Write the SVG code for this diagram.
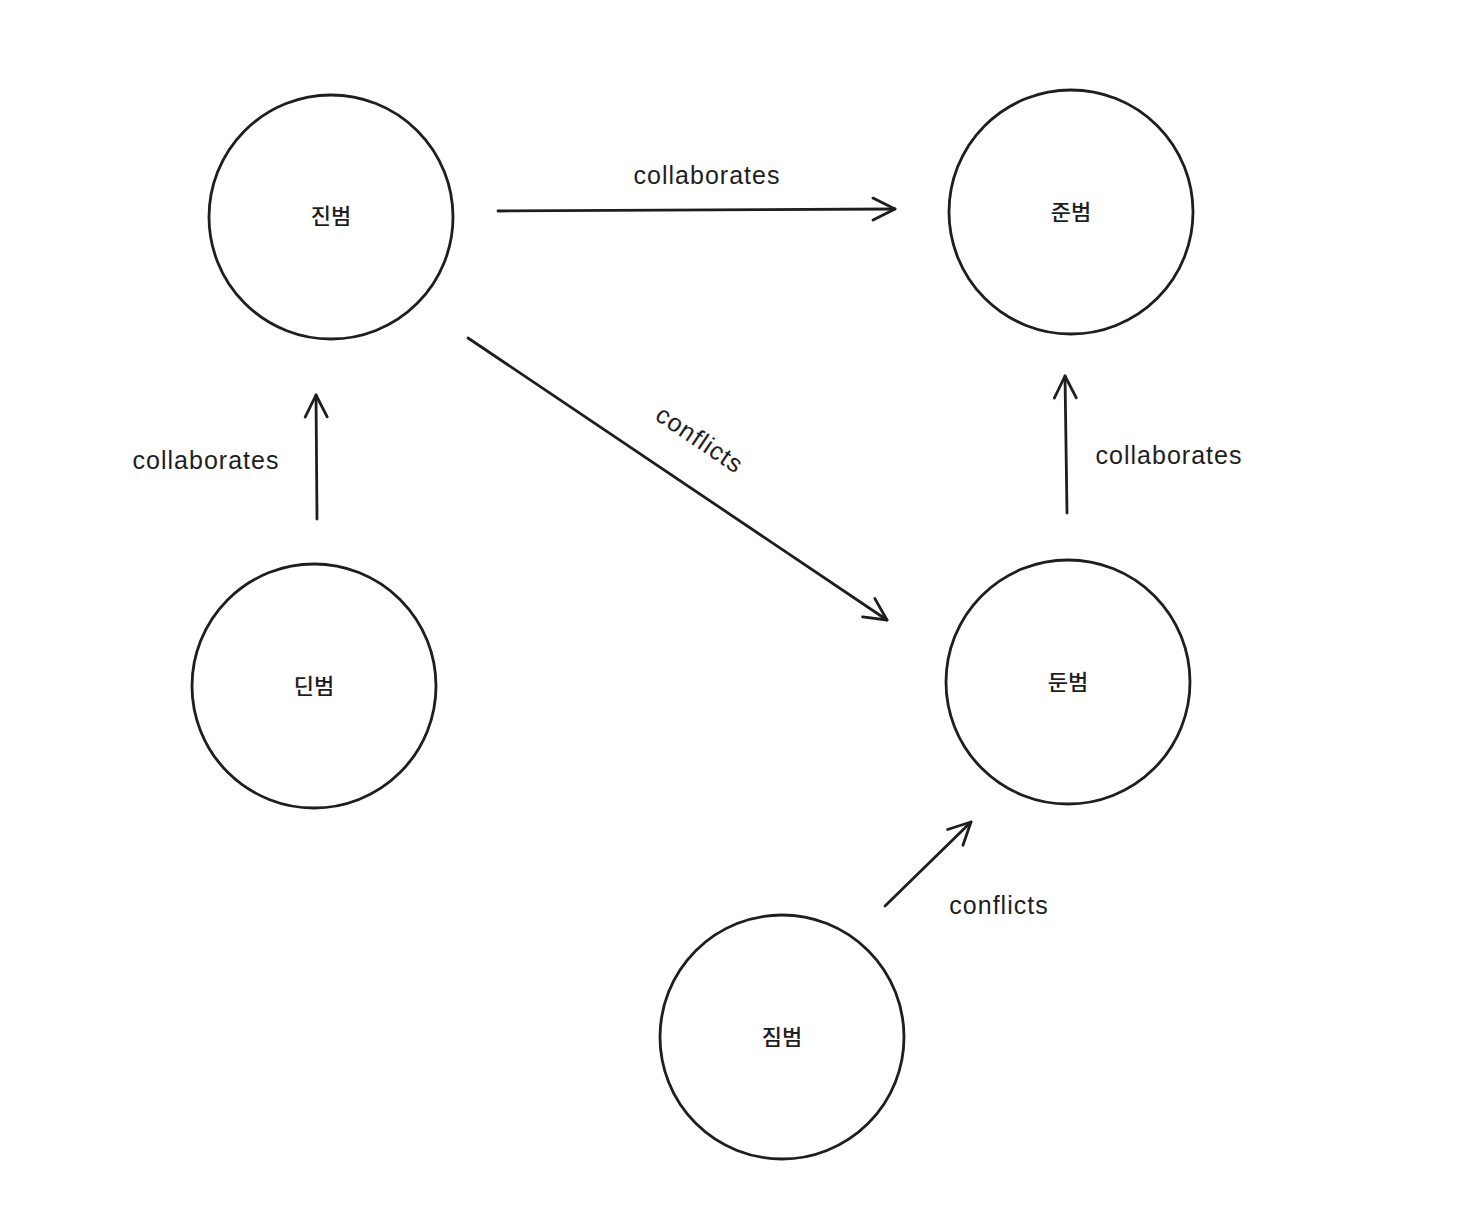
<svg xmlns="http://www.w3.org/2000/svg" width="1458" height="1222" viewBox="0 0 1458 1222">
<style>
.node{fill:none;stroke:#1e1e1e;stroke-width:2.8}
.nl{font-family:"Noto Sans CJK KR","Noto Sans",sans-serif;font-size:22px;font-weight:500;fill:#1e1e1e;text-anchor:middle;dominant-baseline:central}
.edge{fill:none;stroke:#1e1e1e;stroke-width:2.8;stroke-linecap:round}
.el{font-family:"Liberation Sans","DejaVu Sans",sans-serif;font-size:25px;letter-spacing:1px;fill:#1e1e1e;text-anchor:middle;dominant-baseline:central}
</style>
<defs>
<marker id="arr" markerUnits="userSpaceOnUse" markerWidth="40" markerHeight="40" refX="30" refY="20" orient="auto" viewBox="0 0 40 40">
<path d="M8,9 L30,20 L8,31" fill="none" stroke="#1e1e1e" stroke-width="2.8" stroke-linecap="round" stroke-linejoin="round"/>
</marker>
</defs>
<rect width="1458" height="1222" fill="#ffffff"/>
<g id="connectors">
<g id="e1"><line class="edge" x1="498" y1="211" x2="895" y2="209" marker-end="url(#arr)"/><text class="el" x="707" y="175">collaborates</text></g>
<g id="e2"><line class="edge" x1="468" y1="338" x2="887" y2="620" marker-end="url(#arr)"/><text class="el" x="700" y="439" transform="rotate(34 700 439)">conflicts</text></g>
<g id="e3"><line class="edge" x1="317" y1="519" x2="316" y2="395" marker-end="url(#arr)"/><text class="el" x="206" y="460">collaborates</text></g>
<g id="e4"><line class="edge" x1="1067" y1="513" x2="1065" y2="376" marker-end="url(#arr)"/><text class="el" x="1169" y="455">collaborates</text></g>
<g id="e5"><line class="edge" x1="885" y1="906" x2="971" y2="822" marker-end="url(#arr)"/><text class="el" x="999" y="905">conflicts</text></g>
</g>
<g id="n-jinbeom"><circle class="node" cx="331" cy="217" r="122"/><text class="nl" x="331" y="214">진범</text></g>
<g id="n-junbeom"><circle class="node" cx="1071" cy="212" r="122"/><text class="nl" x="1071" y="210">준범</text></g>
<g id="n-dinbeom"><circle class="node" cx="314" cy="686" r="122"/><text class="nl" x="314" y="684">딘범</text></g>
<g id="n-dunbeom"><circle class="node" cx="1068" cy="682" r="122"/><text class="nl" x="1068" y="680">둔범</text></g>
<g id="n-jimbeom"><circle class="node" cx="782" cy="1037" r="122"/><text class="nl" x="782" y="1035">짐범</text></g>
</svg>
